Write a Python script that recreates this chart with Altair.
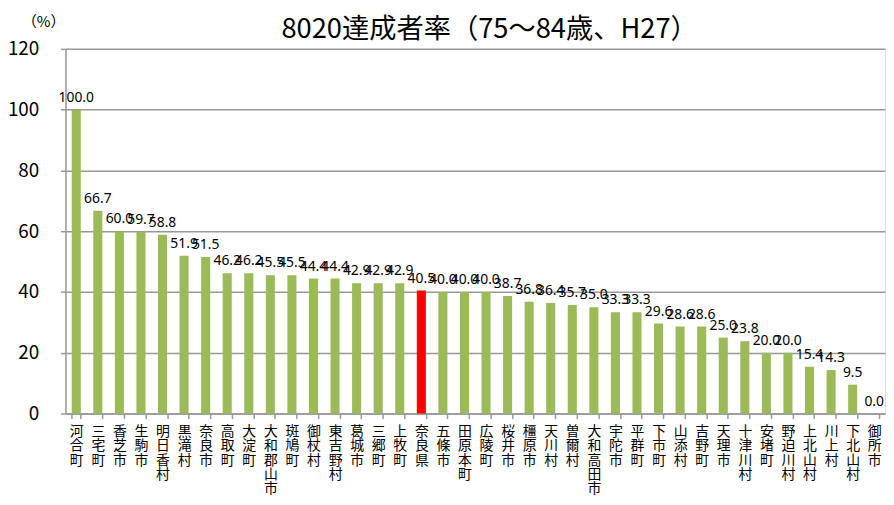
import altair as alt
import pandas as pd

names = ["河合町", "三宅町", "香芝市", "生駒市", "明日香村", "黒滝村", "奈良市", "高取町", "大淀町",
         "大和郡山市", "斑鳩町", "御杖村", "東吉野村", "葛城市", "三郷町", "上牧町", "奈良県", "五條市",
         "田原本町", "広陵町", "桜井市", "橿原市", "天川村", "曽爾村", "大和高田市", "宇陀市", "平群町",
         "下市町", "山添村", "吉野町", "天理市", "十津川村", "安堵町", "野迫川村", "上北山村", "川上村",
         "下北山村", "御所市"]
values = [100.0, 66.7, 60.0, 59.7, 58.8, 51.9, 51.5, 46.2, 46.2,
          45.5, 45.5, 44.4, 44.4, 42.9, 42.9, 42.9, 40.5, 40.0,
          40.0, 40.0, 38.7, 36.8, 36.4, 35.7, 35.0, 33.3, 33.3,
          29.6, 28.6, 28.6, 25.0, 23.8, 20.0, 20.0, 15.4, 14.3,
          9.5, 0.0]
highlight = "奈良県"
y_ticks = [0, 20, 40, 60, 80, 100, 120]
title_text = "8020達成者率（75～84歳、H27）"
unit_text = "（%）"

df = pd.DataFrame({"name": names, "value": values})
df["kind"] = ["pref" if n == highlight else "muni" for n in names]
df["label"] = [f"{v:.1f}" for v in values]

x = alt.X("name:N", sort=names, title=None,
          scale=alt.Scale(paddingInner=0.58, paddingOuter=0.29),
          axis=alt.Axis(labelAngle=0, labelExpr="split(datum.label, '')",
                        labelFont="Noto Sans CJK JP", labelFontSize=14, labelLineHeight=14.5,
                        labelBaseline="top", labelPadding=6, labelColor="#000000",
                        tickBand="extent", tickSize=5, tickColor="#999999", tickWidth=1.5,
                        domainColor="#999999", domainWidth=1.5, grid=False))
y = alt.Y("value:Q", scale=alt.Scale(domain=[0, 120], nice=False),
          axis=alt.Axis(values=y_ticks, format="d", title=None,
                        labelFont="Noto Sans CJK JP", labelFontSize=19, labelColor="#000000",
                        labelPadding=22, tickSize=5, tickColor="#999999", tickWidth=1.5,
                        domainColor="#999999", domainWidth=1.5,
                        gridColor="#999999", gridWidth=1.5))

bars = alt.Chart(df).mark_bar().encode(
    x=x, y=y,
    color=alt.Color("kind:N", scale=alt.Scale(domain=["muni", "pref"], range=["#9BBB59", "#FF0000"]),
                    legend=None),
)
texts = alt.Chart(df).mark_text(dy=-12, font="Noto Sans", fontSize=14, color="#000000").encode(
    x=alt.X("name:N", sort=names), y="value:Q", text="label:N"
)
title = alt.Chart(pd.DataFrame({"t": [title_text]})).mark_text(
    font="Noto Sans CJK JP", fontSize=27.5, color="#000000", align="center", baseline="middle"
).encode(x=alt.value(428), y=alt.value(-19), text="t:N")
unit = alt.Chart(pd.DataFrame({"t": [unit_text]})).mark_text(
    font="Noto Sans CJK JP", fontSize=15, color="#000000", align="center", baseline="middle"
).encode(x=alt.value(-22), y=alt.value(-27), text="t:N")

chart = (bars + texts + title + unit).properties(
    width=827, height=368,
    autosize=alt.AutoSizeParams(type="none"),
    padding={"left": 58, "top": 39, "right": 1, "bottom": 82},
).configure_view(stroke="#999999", strokeWidth=1.5).configure(background="white")

chart.save("out.html", embed_options={"renderer": "svg", "actions": False})
